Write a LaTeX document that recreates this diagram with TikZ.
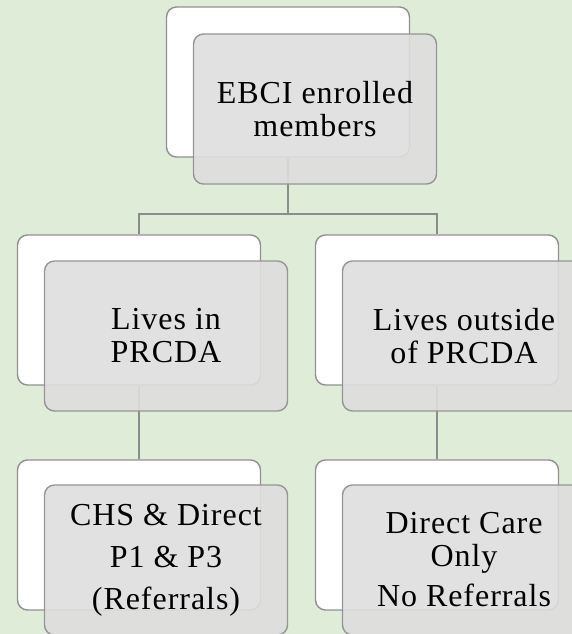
\documentclass[tikz,border=0pt]{standalone}
\usepackage{fontspec}
\setmainfont{Liberation Serif}[LetterSpace=3.0]
\usepackage{tikz}
\usetikzlibrary{positioning}
\definecolor{bgcol}{RGB}{223,236,215}
\definecolor{edgegrey}{RGB}{145,145,145}
\definecolor{linegrey}{RGB}{140,140,140}
\definecolor{boxgrey}{RGB}{222,222,222}

\begin{document}
\begin{tikzpicture}[x=1pt, y=-1pt,
    backbox/.style={draw=edgegrey, line width=1.4pt, fill=white, rounded corners=10pt,
        minimum width=243pt, minimum height=150pt, inner sep=0pt},
    frontbox/.style={draw=edgegrey, line width=1.4pt, fill=boxgrey, fill opacity=0.9,
        draw opacity=0.95, text opacity=1, rounded corners=10pt,
        minimum width=243pt, minimum height=150pt, inner sep=0pt, align=center,
        font=\fontsize{32}{33}\selectfont},
    conn/.style={draw=linegrey, line width=1.5pt}]

    % Background
    \useasboundingbox (0,0) rectangle (572,634);
    \clip (0,0) rectangle (572,634);
    \fill[bgcol] (0,0) rectangle (572,634);

    % Back boxes
    \node at (288,82) (topw) [backbox] {};
    \node at (139,310) (lw) [backbox] {};
    \node at (437,310) (rw) [backbox] {};
    \node at (139,535) (blw) [backbox] {};
    \node at (437,535) (brw) [backbox] {};

    % Connectors
    \coordinate (split) at (288,214);
    \draw[conn] (topw.south) -- (split) -| (lw.north);
    \draw[conn] (split) -| (rw.north);
    \draw[conn] (lw.south) -- (blw.north);
    \draw[conn] (rw.south) -- (brw.north);

    % Front boxes
    \node at (315,109) (ebci) [frontbox] {EBCI enrolled\\members};
    \node at (166,336) (livesin) [frontbox] {Lives in\\PRCDA};
    \node at (464,336) (livesout) [frontbox] {Lives outside\\of PRCDA};
    \node at (166,560) (chs) [frontbox] {CHS \& Direct\\[9pt]P1 \& P3\\[9pt](Referrals)};
    \node at (464,560) (direct) [frontbox] {Direct Care\\Only\\[7pt]No Referrals};

\end{tikzpicture}
\end{document}
